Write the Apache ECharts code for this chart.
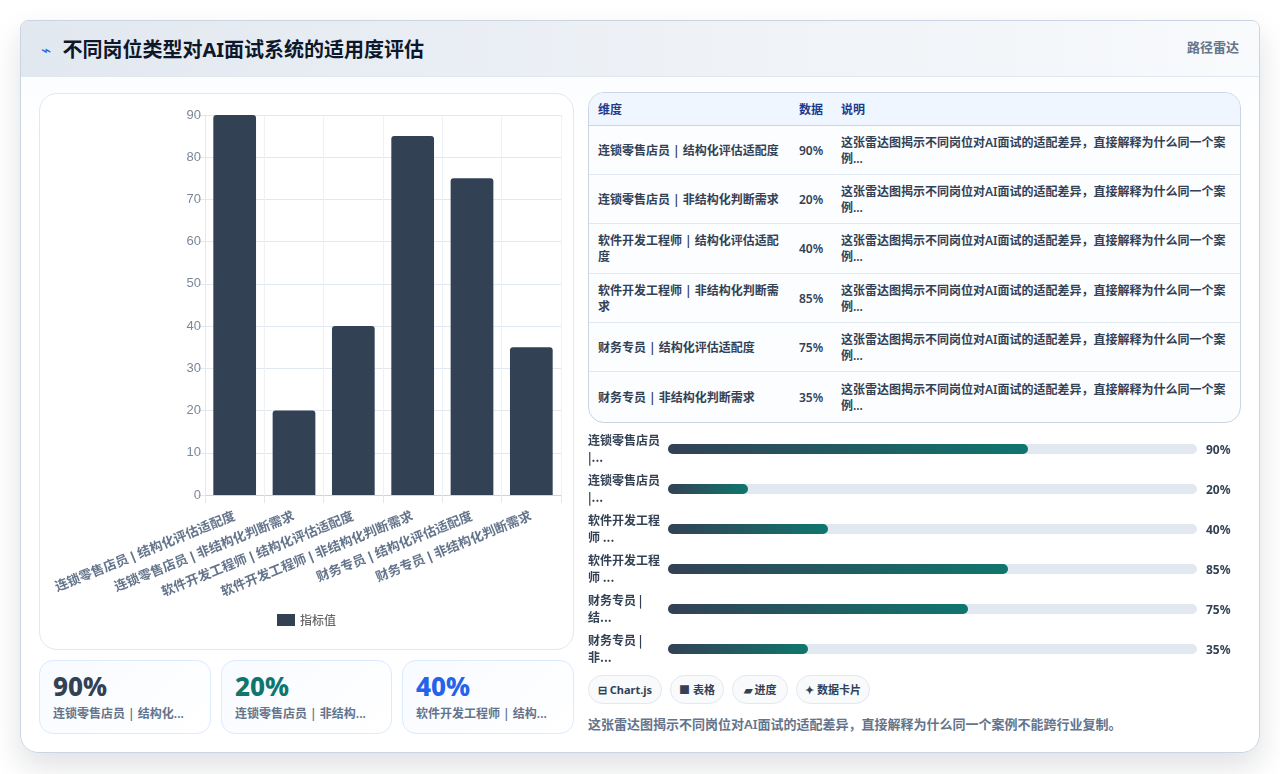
<!DOCTYPE html>
<html lang="zh-CN">
<head>
<meta charset="utf-8">
<title>不同岗位类型对AI面试系统的适用度评估</title>
<script src="https://cdn.jsdelivr.net/npm/echarts@6/dist/echarts.min.js"></script>
<style>
  * { box-sizing: border-box; }
  html, body { margin: 0; width: 1280px; height: 774px; overflow: hidden; background: #fff;
    font-family: "Noto Sans", "Noto Sans CJK SC", sans-serif; color: #334155; }
  .abs { position: absolute; }
  #panel { left: 20px; top: 20px; width: 1240px; height: 733px; border: 1px solid #cbd5e1; border-radius: 8px 8px 18px 18px;
    background: linear-gradient(180deg, #f8fbff 0, #fff 120px); box-shadow: 0 14px 30px rgba(15, 23, 42, .13); }
  #header { left: 21px; top: 21px; width: 1238px; height: 56px; border-bottom: 1px solid #e2e8f0; border-radius: 7px 7px 0 0;
    background: linear-gradient(90deg, #e2e8f0 0, #f8fafc 100%); }
  #title { left: 62.5px; top: 36px; font-size: 20px; line-height: 28px; font-weight: 700; color: #0f172a; white-space: nowrap; }
  #bolt { left: 41px; top: 39px; font-size: 17px; line-height: 22px; color: #2563eb; font-weight: 400; }
  #tag { left: 1187px; top: 38px; font-size: 13px; line-height: 19px; font-weight: 600; color: #64748b; white-space: nowrap; }
  #chartCard { left: 39px; top: 93px; width: 535px; height: 557px; background: #fff; border: 1px solid #e2e8f0; border-radius: 18px; }
  #barChart { left: 39px; top: 93px; width: 535px; height: 557px; }
  .kpi { top: 660px; height: 74px; border: 1px solid #dbeafe; border-radius: 14px; background: linear-gradient(135deg, #f8fbff, #fff); padding: 9px 0 0 13px; }
  .kpi b { display: block; font-size: 26px; line-height: 33px; font-weight: 800; }
  .kpi span { display: block; font-size: 12px; line-height: 17px; margin-top: 2px; font-weight: 600; color: #64748b; white-space: nowrap; }
  #tableWrap { left: 588px; top: 92px; width: 653px; height: 331px; border: 1px solid #cbd5e1; border-radius: 16px; overflow: hidden; background: #fbfdff; }
  table { border-collapse: collapse; width: 100%; table-layout: fixed; font-size: 12px; font-weight: 600; }
  th { height: 32px; background: #eff6ff; color: #1e3a8a; text-align: left; padding: 1px 9px 0; border-bottom: 1px solid #cbd5e1; font-weight: 700; }
  td { height: 49.4px; padding: 2px 9px 0; line-height: 16px; border-bottom: 1px solid #e2e8f0; color: #334155; }
  tr:last-child td { border-bottom: 0; }
  #progressChart { left: 588px; top: 429px; width: 653px; height: 240px; }
  .chip { top: 675px; height: 29px; border: 1px solid #e2e8f0; border-radius: 15px; background: #f8fafc; font-size: 11px; line-height: 28px; font-weight: 700; color: #334155; text-align: center; white-space: nowrap; }
  #note { left: 588px; top: 715px; font-size: 13px; line-height: 18px; font-weight: 600; color: #64748b; white-space: nowrap; }
</style>
</head>
<body>
<div id="panel" class="abs"></div>
<div id="header" class="abs"></div>
<div id="bolt" class="abs">⌁</div>
<div id="title" class="abs">不同岗位类型对AI面试系统的适用度评估</div>
<div id="tag" class="abs">路径雷达</div>
<div id="chartCard" class="abs"></div>
<div id="barChart" class="abs"></div>
<div id="kpis"></div>
<div id="tableWrap" class="abs"><table id="table"></table></div>
<div id="progressChart" class="abs"></div>
<div id="chips"></div>
<div id="note" class="abs"></div>

<script>
// 各岗位维度及其指标值
const categories = [
  '连锁零售店员 | 结构化评估适配度',
  '连锁零售店员 | 非结构化判断需求',
  '软件开发工程师 | 结构化评估适配度',
  '软件开发工程师 | 非结构化判断需求',
  '财务专员 | 结构化评估适配度',
  '财务专员 | 非结构化判断需求'
];
const values = [90, 20, 40, 85, 75, 35];
const shortLabels = ['连锁零售店员\n|...', '连锁零售店员\n|...', '软件开发工程\n师 ...', '软件开发工程\n师 ...', '财务专员 |\n结...', '财务专员 |\n非...'];
const yTicks = [0, 10, 20, 30, 40, 50, 60, 70, 80, 90];
const tableHead = ['维度', '数据', '说明'];
const tableNote = '这张雷达图揭示不同岗位对AI面试的适配差异，直接解释为什么同一个案例...';
const kpiLabels = ['连锁零售店员 | 结构化...', '连锁零售店员 | 非结构...', '软件开发工程师 | 结构...'];
const kpiColors = ['#334155', '#0f766e', '#2563eb'];
const kpiBoxes = [[39, 172], [221, 171], [402, 172]];
const chipLabels = ['⊟ Chart.js', '■ 表格', '▰ 进度', '✦ 数据卡片'];
const chipBoxes = [[588, 74], [670, 54], [732, 56], [796, 74]];
const noteText = '这张雷达图揭示不同岗位对AI面试的适配差异，直接解释为什么同一个案例不能跨行业复制。';

// 页面上的文本块
document.getElementById('kpis').innerHTML = kpiLabels.map((label, i) =>
  `<div class="abs kpi" style="left:${kpiBoxes[i][0]}px;width:${kpiBoxes[i][1]}px"><b style="color:${kpiColors[i]}">${values[i]}%</b><span>${label}</span></div>`).join('');
document.getElementById('table').innerHTML =
  `<colgroup><col style="width:201px"><col style="width:42px"><col></colgroup>` +
  `<tr>${tableHead.map(h => `<th>${h}</th>`).join('')}</tr>` +
  categories.map((c, i) => `<tr><td>${c}</td><td>${values[i]}%</td><td>${tableNote}</td></tr>`).join('');
document.getElementById('chips').innerHTML = chipLabels.map((label, i) =>
  `<div class="abs chip" style="left:${chipBoxes[i][0]}px;width:${chipBoxes[i][1]}px">${label}</div>`).join('');
document.getElementById('note').textContent = noteText;

// 主柱状图
const barChart = echarts.init(document.getElementById('barChart'), null, { renderer: 'canvas' });
barChart.setOption({
  animation: false,
  textStyle: { fontFamily: 'Liberation Sans, Noto Sans CJK SC, sans-serif' },
  grid: { left: 166, right: 13, top: 22, bottom: 155, outerBoundsMode: 'none' },
  legend: {
    bottom: 19, left: 'center', itemWidth: 18, itemHeight: 12, itemGap: 5,
    icon: 'rect',
    textStyle: { color: '#666', fontSize: 12, fontWeight: 500, fontFamily: 'Noto Sans CJK SC' },
    data: ['指标值']
  },
  xAxis: {
    type: 'category', data: categories,
    axisLine: { lineStyle: { color: '#cbd5e1' } },
    axisTick: { show: true, length: 8, lineStyle: { color: '#e2e8f0' } },
    splitLine: { show: true, lineStyle: { color: '#eef2f7' } },
    axisLabel: { interval: 0, rotate: 22, margin: 21, color: '#64748b', fontSize: 13, fontWeight: 700, fontFamily: 'Liberation Sans, Noto Sans CJK SC' }
  },
  yAxis: {
    type: 'value', min: yTicks[0], max: yTicks[yTicks.length - 1], interval: 10,
    axisLine: { show: true, lineStyle: { color: '#e2e8f0' } },
    axisTick: { show: true, length: 7, lineStyle: { color: '#e2e8f0' } },
    splitLine: { show: true, lineStyle: { color: '#e2e8f0' } },
    axisLabel: { color: '#7b8799', fontSize: 13, margin: 4 }
  },
  series: [{
    name: '指标值', type: 'bar', data: values, barWidth: '72%',
    itemStyle: { color: '#334155', borderRadius: [3, 3, 0, 0] }
  }]
});

// 进度条：宽度与百分比成正比
const progressChart = echarts.init(document.getElementById('progressChart'), null, { renderer: 'canvas' });
progressChart.setOption({
  animation: false,
  grid: { left: 80, right: 44, top: 0, bottom: 0, outerBoundsMode: 'none' },
  xAxis: { type: 'value', min: 0, max: 132.25, show: false },
  yAxis: [
    {
      type: 'category', inverse: true, data: shortLabels,
      axisLine: { show: false }, axisTick: { show: false },
      axisLabel: { align: 'left', margin: 80, color: '#334155', fontSize: 12, fontWeight: 600, lineHeight: 17, fontFamily: 'Noto Sans CJK SC' }
    },
    {
      type: 'category', inverse: true, position: 'right', data: values.map(v => v + '%'),
      axisLine: { show: false }, axisTick: { show: false },
      axisLabel: { align: 'left', verticalAlign: 'top', lineHeight: 3, margin: 9, color: '#334155', fontSize: 12, fontWeight: 700, fontFamily: 'Noto Sans' }
    }
  ],
  series: [{
    type: 'bar', yAxisIndex: 0, data: values, barWidth: 10,
    showBackground: true,
    backgroundStyle: { color: '#e2e8f0', borderRadius: 5 },
    itemStyle: {
      borderRadius: 5,
      color: new echarts.graphic.LinearGradient(0, 0, 1, 0, [
        { offset: 0, color: '#334155' }, { offset: 1, color: '#0f766e' }
      ])
    }
  }]
});
</script>
</body>
</html>
